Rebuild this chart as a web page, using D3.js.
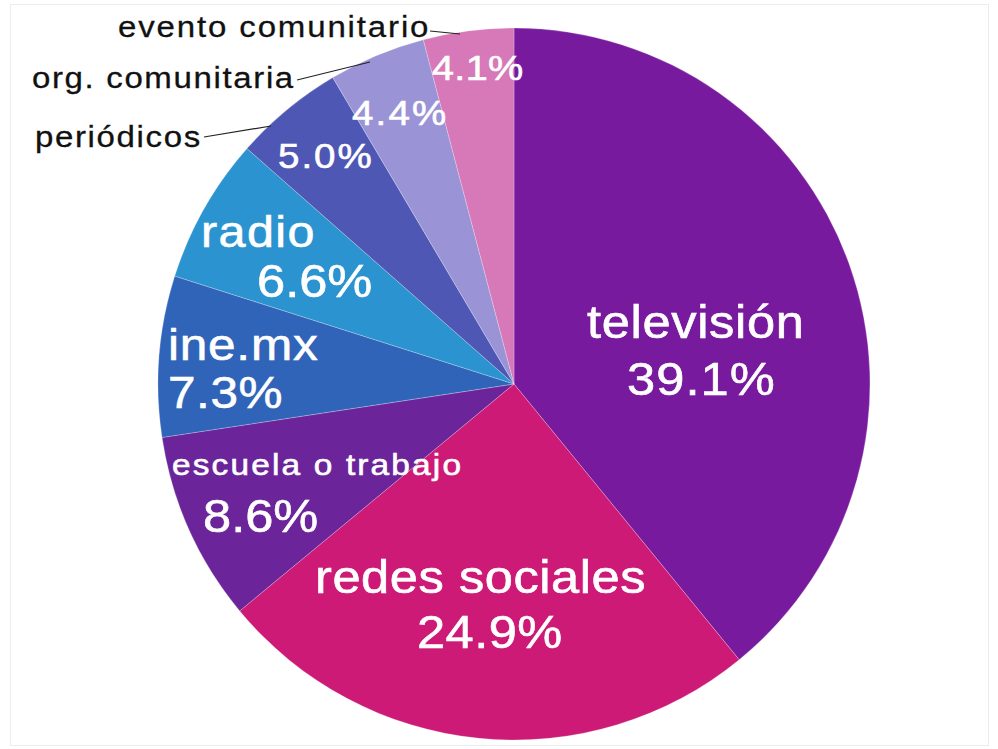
<!DOCTYPE html>
<html>
<head>
<meta charset="utf-8">
<script src="https://cdn.jsdelivr.net/npm/d3@7"></script>
<style>
  html, body { margin: 0; padding: 0; background: #fff; }
  svg { display: block; }
  text { font-family: "Liberation Sans", Arial, Helvetica, sans-serif; }
</style>
</head>
<body>
<svg id="chart" width="998" height="749"></svg>
<script>
// Data
const categories = ["televisión", "redes sociales", "escuela o trabajo", "ine.mx", "radio", "periódicos", "org. comunitaria", "evento comunitario"];
const values = [39.1, 24.9, 8.6, 7.3, 6.6, 5.0, 4.4, 4.1];
const colors = ["#781a9d", "#cc1a76", "#6b2499", "#3064b8", "#2b94d0", "#4e58b4", "#9a93d6", "#d779b8"];

// Label layout (positions / sizes only)
const labelStyle = [
  {inside: true, nx: 587, ny: 338, nfs: 46, nls: 0.6, px: 627, py: 395, pfs: 46, pls: 1.0},
  {inside: true, nx: 315, ny: 593, nfs: 46, nls: 0.5, px: 417, py: 648, pfs: 46, pls: 0.4},
  {inside: true, nx: 172, ny: 475, nfs: 29, nls: 1.9, nk: 1.15, px: 203, py: 532, pfs: 46, pls: 0},
  {inside: true, nx: 168, ny: 360, nfs: 45, nls: 0.7, px: 168, py: 408, pfs: 45, pls: 0.5},
  {inside: true, nx: 201, ny: 247, nfs: 44, nls: 1.3, px: 257, py: 297, pfs: 46, pls: 0},
  {inside: false, px: 278, py: 168, pfs: 35, pls: 1.8, nx: 35, ny: 147, nfs: 30, nls: 1.5, lx1: 204, ly1: 137, lx2: 271, ly2: 126},
  {inside: false, px: 352, py: 125, pfs: 35, pls: 2.0, nx: 32, ny: 88, nfs: 30, nls: 1.5, lx1: 297, ly1: 80, lx2: 370, ly2: 62},
  {inside: false, px: 432, py: 80, pfs: 36, pls: 0.3, nx: 118, ny: 37, nfs: 30, nls: 1.7, lx1: 430, ly1: 31, lx2: 460, ly2: 34}
];
const K = 1.1; // horizontal glyph widening

const svg = d3.select("#chart");

// frame
svg.append("rect").attr("x", 10.5).attr("y", 4.5).attr("width", 978).attr("height", 741)
  .attr("fill", "none").attr("stroke", "#ececec").attr("stroke-width", 1);

const cx = 514, cy = 384, R = 356;

const pie = d3.pie().sort(null).value(d => d.value);
const data = categories.map((c, i) => ({name: c, value: values[i], color: colors[i]}));
const arcs = pie(data);
const arc = d3.arc().innerRadius(0).outerRadius(R);

const g = svg.append("g").attr("transform", `translate(${cx},${cy})`);
g.selectAll("path").data(arcs).enter().append("path")
  .attr("d", arc)
  .attr("fill", d => d.data.color)
  .attr("stroke", "rgba(255,255,255,0.3)")
  .attr("stroke-width", 0.8);

const fmt = d3.format(".1f");
const lab = svg.append("g");
function addText(x, y, fs, ls, k, fill, sw, str) {
  lab.append("text")
    .attr("transform", `translate(${x},${y}) scale(${k},1)`)
    .attr("font-size", fs).attr("letter-spacing", ls)
    .attr("fill", fill).attr("stroke", fill).attr("stroke-width", sw)
    .text(str);
}
arcs.forEach((a, i) => {
  const s = labelStyle[i];
  const pct = fmt(a.data.value) + "%";
  addText(s.px, s.py, s.pfs, s.pls, K, "#fff", 0.6, pct);
  if (s.inside) {
    addText(s.nx, s.ny, s.nfs, s.nls, s.nk || K, "#fff", 0.6, a.data.name);
  } else {
    addText(s.nx, s.ny, s.nfs, s.nls, K, "#111", 0.3, a.data.name);
    lab.append("line").attr("x1", s.lx1).attr("y1", s.ly1).attr("x2", s.lx2).attr("y2", s.ly2)
      .attr("stroke", "#222").attr("stroke-width", 1.2);
  }
});
</script>
</body>
</html>
